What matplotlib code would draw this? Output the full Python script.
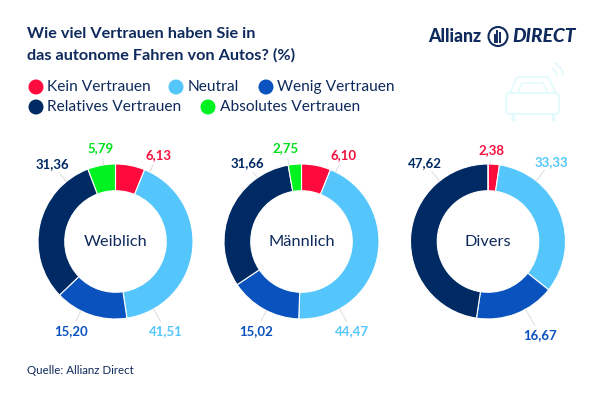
import numpy as np
from matplotlib import pyplot as plt
from matplotlib.patches import Arc, Circle, FancyBboxPatch, Polygon

plt.rcParams['font.family'] = ['Lato', 'DejaVu Sans']

NAVY = '#0f2a5c'

categories = ['Kein Vertrauen', 'Neutral', 'Wenig Vertrauen', 'Relatives Vertrauen', 'Absolutes Vertrauen']
colors = ['#ff0a3c', '#55c6fb', '#0a52bd', '#002a63', '#00f321']
label_colors = ['#f5103f', '#55c6fb', '#0a52bd', '#002a63', '#00e01e']

groups = ['Weiblich', 'Männlich', 'Divers']
weiblich = [6.13, 41.51, 15.20, 31.36, 5.79]
maennlich = [6.10, 44.47, 15.02, 31.66, 2.75]
divers = [2.38, 33.33, 16.67, 47.62, 0]
values = [weiblich, maennlich, divers]

# layout in pixels
centers = [115.5, 301.5, 488]
center_y = 241.5
radius = 77.5
label_pos = [
    [(158, 155), (166, 331), (71, 331), (52, 164), (101, 148)],
    [(344, 155), (352, 331), (256, 331), (247, 163), (286, 148)],
    [(491, 150), (551, 162), (540, 335), (425, 163), None],
]

W, H = 602, 403
fig = plt.figure(figsize=(W / 100, H / 100), dpi=100)

for cx, vals in zip(centers, values):
    ax = fig.add_axes([(cx - radius) / W, 1 - (center_y + radius) / H, 2 * radius / W, 2 * radius / H])
    ax.pie(vals, colors=colors, startangle=90, counterclock=False, radius=1,
           wedgeprops={'width': 0.345, 'edgecolor': 'white', 'linewidth': 0.8})
    ax.set_xlim(-1, 1)
    ax.set_ylim(-1, 1)

# overlay in pixel coordinates for text and decoration
ov = fig.add_axes([0, 0, 1, 1])
ov.set_xlim(0, W)
ov.set_ylim(H, 0)
ov.axis('off')
ov.patch.set_alpha(0)

ov.text(27, 34, 'Wie viel Vertrauen haben Sie in', fontsize=11.7, fontweight='bold', color=NAVY, va='center')
ov.text(27, 55, 'das autonome Fahren von Autos? (%)', fontsize=11.7, fontweight='bold', color=NAVY, va='center')

# legend
legend_items = [(36, 87, 47), (176, 87, 188), (266, 87, 277), (36, 107, 47), (208, 107, 220)]
for (mx, my, tx), cat, col in zip(legend_items, categories, colors):
    ov.add_patch(Circle((mx, my), 7.5, color=col, lw=0))
    ov.text(tx, my, cat, fontsize=11.2, color=NAVY, va='center')

# donut labels and leader lines
for cx, name, vals, positions in zip(centers, groups, values, label_pos):
    ov.text(cx, center_y + 1, name, fontsize=11.8, color=NAVY, ha='center', va='center')
    for val, col, pos in zip(vals, label_colors, positions):
        if pos is None:
            continue
        dx, dy = pos[0] - cx, pos[1] - center_y
        dist = np.hypot(dx, dy)
        if dist - 11 > radius:
            ov.plot([cx + radius * dx / dist, cx + (dist - 11) * dx / dist],
                    [center_y + radius * dy / dist, center_y + (dist - 11) * dy / dist],
                    color='#dddddd', lw=0.7)
        ov.text(pos[0], pos[1], f'{val:.2f}'.replace('.', ','), fontsize=9.5, fontweight='bold',
                color=col, ha='center', va='center')

ov.text(27, 371, 'Quelle: Allianz Direct', fontsize=8.3, color=NAVY, va='center')

# logo
ov.text(428, 36, 'Allianz', fontsize=12.8, fontweight='black', color=NAVY, va='center')
ov.add_patch(Circle((498, 36.5), 9.5, fc='none', ec=NAVY, lw=1.5))
for bx, top in [(-3.5, 35), (-0.8, 31), (2.2, 33)]:
    ov.plot([498 + bx, 498 + bx], [42, top], color=NAVY, lw=1.4)
ov.text(512, 36, 'DIRECT', fontsize=13.8, fontweight='black', style='italic', color=NAVY, va='center')

# faint car icon
car = '#e2fafb'
ov.add_patch(Polygon([(510, 93), (517, 77), (548, 77), (556, 93)], closed=True, fc='none', ec=car, lw=1.3))
ov.add_patch(Polygon([(518, 93), (522, 83), (543, 83), (548, 93)], closed=True, fc='none', ec=car, lw=1))
ov.add_patch(FancyBboxPatch((506, 93), 53, 21, boxstyle='round,pad=0,rounding_size=4', fc='none', ec=car, lw=1.3))
ov.plot([513, 513], [114, 119], color=car, lw=2.5)
ov.plot([553, 553], [114, 119], color=car, lw=2.5)
for r in (8, 14):
    ov.add_patch(Arc((549, 76), 2 * r, 2 * r, theta1=-70, theta2=0, ec=car, lw=1.3))

fig.savefig('out.png', dpi=100)
